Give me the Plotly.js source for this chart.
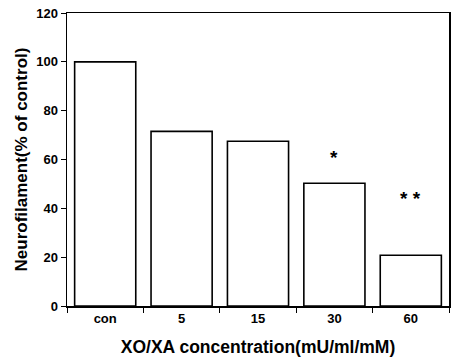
<!DOCTYPE html>
<html><head><meta charset="utf-8">
<script src="https://cdn.plot.ly/plotly-3.0.1.min.js"></script>
<style>body{margin:0;background:#fff}#c{width:451px;height:359px}</style>
</head><body><div id="c"></div>
<script>
const categories = ["con", "5", "15", "30", "60"];
const values = [100, 71.5, 67.5, 50.3, 20.8];
const sigLabels = ["", "", "", "*", "* *"];
const sigY = [0, 0, 0, 61, 44];

const font = {family: "Liberation Sans, Arial, sans-serif", color: "#000"};
const annotations = categories.map((c, i) => ({
  x: i, y: sigY[i], text: sigLabels[i], showarrow: false,
  font: Object.assign({}, font, {size: 19, weight: "bold"}), yanchor: "middle"
})).filter(a => a.text);

Plotly.newPlot("c", [{
  type: "bar", x: categories, y: values, width: 0.8,
  marker: {color: "#fff", line: {color: "#000", width: 1.6}}
}], {
  width: 451, height: 359,
  margin: {l: 67, r: 2, t: 13, b: 53},
  paper_bgcolor: "#fff", plot_bgcolor: "#fff",
  showlegend: false,
  font: font,
  xaxis: {
    type: "category", range: [-0.5, 4.5], tickson: "boundaries", ticks: "outside", ticklen: 5,
    showline: true, mirror: true, linecolor: "#000", linewidth: 1.5, tickcolor: "#000",
    tickfont: Object.assign({}, font, {size: 13, weight: "bold"}),
    title: {text: "XO/XA concentration(mU/ml/mM)", font: Object.assign({}, font, {size: 17.5, weight: "bold"}), standoff: 15},
    showgrid: false, zeroline: false
  },
  yaxis: {
    range: [0, 120], dtick: 20, ticks: "outside", ticklen: 5,
    showline: true, mirror: true, linecolor: "#000", linewidth: 1.5, tickcolor: "#000",
    tickfont: Object.assign({}, font, {size: 13, weight: "bold"}),
    title: {text: "Neurofilament(% of control)", font: Object.assign({}, font, {size: 17, weight: "bold"}), standoff: 4},
    showgrid: false, zeroline: false
  },
  annotations: annotations
}, {staticPlot: true});
</script></body></html>
